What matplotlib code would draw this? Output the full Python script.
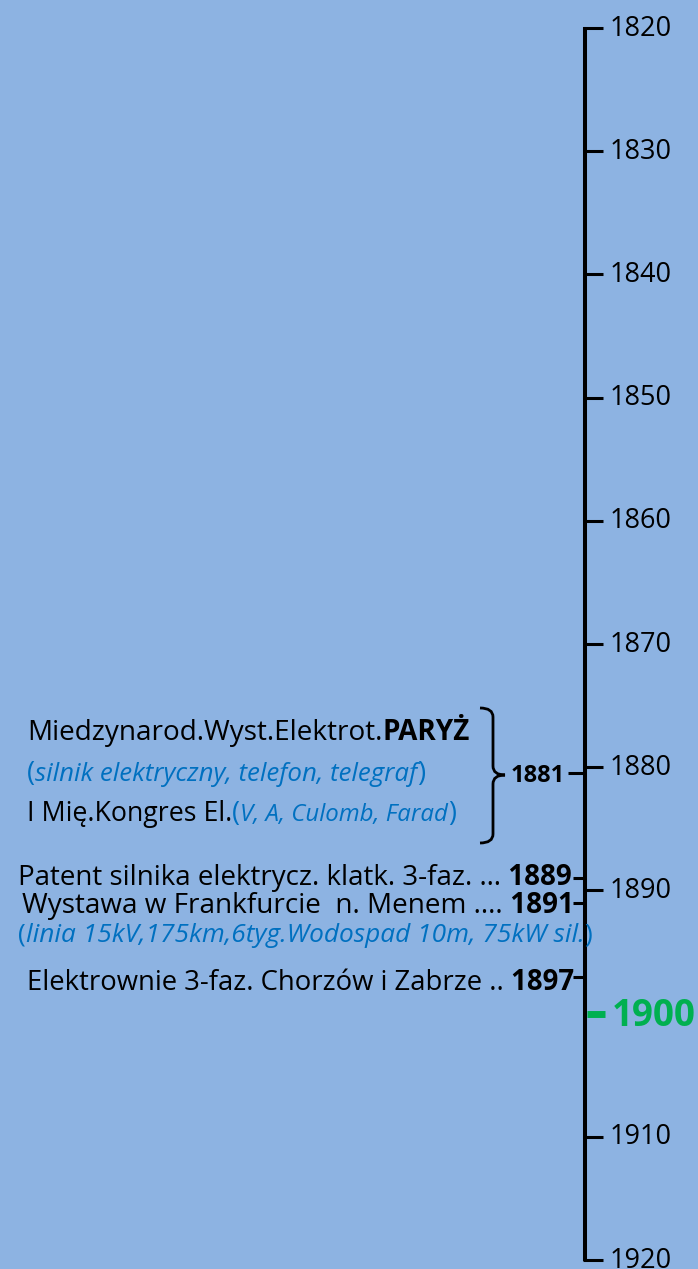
import matplotlib
matplotlib.use("Agg")
import matplotlib.pyplot as plt
from matplotlib.path import Path
from matplotlib.patches import PathPatch

plt.rcParams['font.family'] = ['Open Sans', 'DejaVu Sans']

# axis years
tick_years = [1820, 1830, 1840, 1850, 1860, 1870, 1880, 1890, 1900, 1910, 1920]
highlight_year = 1900

# events marked on the left of the axis
event_years = [1881, 1889, 1891, 1897]

BG = '#8DB3E2'
BLUE = '#0070C0'
GREEN = '#00B050'

# pixel -> year mapping (1820 at 28 px, 1920 at 1260 px)
PX_PER_YEAR = (1260 - 28) / 100.0


def yr(p):
    return 1820 + (p - 28) / PX_PER_YEAR


fig = plt.figure(figsize=(6.98, 12.69), dpi=100)
fig.patch.set_facecolor(BG)
ax = fig.add_axes([0, 0, 1, 1])
ax.set_facecolor(BG)
ax.set_xlim(0, 698)
ax.set_ylim(yr(1269), yr(0))
ax.axis('off')

renderer = fig.canvas.get_renderer()


def line(x, p, pieces, size, isize=None):
    # pieces drawn one after another on a common baseline
    for txt, color, weight, style in pieces:
        fs = isize if (style == 'italic' and isize) else size
        t = ax.text(x, yr(p), txt, fontsize=fs, color=color, fontweight=weight,
                    fontstyle=style, va='baseline', ha='left')
        x = t.get_window_extent(renderer).x1


# main axis
AX_X = 585
ax.plot([AX_X, AX_X], [tick_years[0] - 1 / PX_PER_YEAR, tick_years[-1] + 1 / PX_PER_YEAR],
        color='black', lw=2.9, solid_capstyle='butt', zorder=3)
for y in tick_years:
    if y == highlight_year:
        ax.plot([AX_X + 2, AX_X + 20], [y, y], color=GREEN, lw=5, solid_capstyle='butt')
        ax.text(612, y + 12 / PX_PER_YEAR, str(y), fontsize=26.5, fontweight='bold',
                color=GREEN, va='baseline', ha='left')
    else:
        ax.plot([AX_X - 2, AX_X + 18], [y, y], color='black', lw=2.2, solid_capstyle='butt')
        ax.text(610, y + 7.5 / PX_PER_YEAR, str(y), fontsize=19.5, color='black',
                va='baseline', ha='left')

# event ticks (left side)
ax.plot([568, AX_X], [event_years[0] - 0.5, event_years[0] - 0.5], color='black', lw=2.2,
        solid_capstyle='butt')
for y in event_years[1:]:
    ax.plot([573, AX_X], [y, y], color='black', lw=2.2, solid_capstyle='butt')

# 1881 group
line(27, 740, [('Miedzynarod.Wyst.Elektrot.', 'black', 'normal', 'normal'),
               ('PARYŻ', 'black', 'bold', 'normal')], 20.1)
line(27, 781, [('(', BLUE, 'normal', 'normal'),
               ('silnik elektryczny, telefon, telegraf', BLUE, 'normal', 'italic'),
               (')', BLUE, 'normal', 'normal')], 19.5, 18.6)
line(27, 821, [('I Mię.Kongres El.', 'black', 'normal', 'normal'),
               ('(', BLUE, 'normal', 'normal'),
               ('V, A, Culomb, Farad', BLUE, 'normal', 'italic'),
               (')', BLUE, 'normal', 'normal')], 19.3, 17.3)
ax.text(511, yr(782), str(event_years[0]), fontsize=17, fontweight='bold',
        va='baseline', ha='left')

# curly brace
yt, ym, yb = yr(708), yr(775), yr(843)
r = 9 / PX_PER_YEAR
verts = [(480, yt), (493, yt), (493, yt + r), (493, ym - r), (493, ym), (505, ym),
         (493, ym), (493, ym + r), (493, yb - r), (493, yb), (480, yb)]
codes = [Path.MOVETO, Path.CURVE3, Path.CURVE3, Path.LINETO, Path.CURVE3, Path.CURVE3,
         Path.CURVE3, Path.CURVE3, Path.LINETO, Path.CURVE3, Path.CURVE3]
ax.add_patch(PathPatch(Path(verts, codes), fill=False, lw=2.0, edgecolor='black'))

# later events
line(18, 885, [('Patent silnika elektrycz. klatk. 3-faz. …', 'black', 'normal', 'normal'),
               (' ' + str(event_years[1]), 'black', 'bold', 'normal')], 20.0)
line(22, 913, [('Wystawa w Frankfurcie  n. Menem ....', 'black', 'normal', 'normal'),
               (' ' + str(event_years[2]), 'black', 'bold', 'normal')], 20.1)
line(18, 942, [('(', BLUE, 'normal', 'normal'),
               ('linia 15kV,175km,6tyg.Wodospad 10m, 75kW sil.', BLUE, 'normal', 'italic'),
               (')', BLUE, 'normal', 'normal')], 18.9)
line(27, 990, [('Elektrownie 3-faz. Chorzów i Zabrze ..', 'black', 'normal', 'normal'),
               (' ' + str(event_years[3]), 'black', 'bold', 'normal')], 19.8)

fig.savefig('out.png', dpi=100, facecolor=BG)
